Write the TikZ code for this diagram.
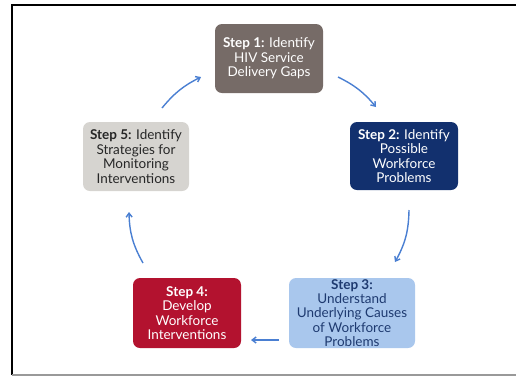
\documentclass[tikz,border=0pt]{standalone}
\usepackage{fontspec}
\setmainfont{Lato}
\usetikzlibrary{arrows.meta}
\definecolor{cStepA}{HTML}{766B67}
\definecolor{cStepB}{HTML}{12306E}
\definecolor{cStepC}{HTML}{A9C7ED}
\definecolor{cStepD}{HTML}{B3122F}
\definecolor{cStepE}{HTML}{D6D4D0}
\definecolor{cTextC}{HTML}{1E3A70}
\definecolor{cArrow}{HTML}{4A7FD2}
\tikzset{
  stepbox/.style={rounded corners=7pt, align=center, font=\fontsize{13.5}{14.4}\selectfont, inner sep=0pt, minimum width=#1},
  flow/.style={draw=cArrow, line width=1.4pt, -{Straight Barb[length=4pt,width=6pt]}}
}
\begin{document}
\begin{tikzpicture}[x=1pt,y=-1pt]
\useasboundingbox (0,0) rectangle (516,376);
\draw[black, line width=2pt] (12,375) -- (12,5) -- (516,5);
\draw[gray!80, line width=1.5pt] (12,375) -- (516,375);
% boxes
\node[stepbox=108pt, minimum height=69pt, fill=cStepA, text=white] (s1) at (269,58.5) {\textbf{Step 1:} Identify\\HIV Service\\Delivery Gaps};
\node[stepbox=108pt, minimum height=68pt, fill=cStepB, text=white] (s2) at (404,156) {\textbf{Step 2:} Identify\\Possible\\Workforce\\Problems};
\node[stepbox=126pt, minimum height=70pt, fill=cStepC, text=cTextC] (s3) at (352,313) {\textbf{Step 3:}\\Understand\\Underlying Causes\\of Workforce\\Problems};
\node[stepbox=108pt, minimum height=70pt, fill=cStepD, text=white] (s4) at (187,313) {\textbf{Step 4:}\\Develop\\Workforce\\Interventions};
\node[stepbox=106pt, minimum height=69pt, fill=cStepE, text=black!85] (s5) at (136,156.5) {\textbf{Step 5:} Identify\\Strategies for\\Monitoring\\Interventions};
% arrow end points
\coordinate (a1s) at (338,77);
\coordinate (a1e) at (376,107);
\coordinate (a2s) at (409,210);
\coordinate (a2e) at (395,262);
\coordinate (a3s) at (279,340);
\coordinate (a3e) at (251,340);
\coordinate (a4s) at (143,263);
\coordinate (a4e) at (129,212);
\coordinate (a5s) at (162,108);
\coordinate (a5e) at (201,77);
\draw[flow] (a1s) to[bend left=12] (a1e);
\draw[flow] (a2s) to[bend left=14] (a2e);
\draw[flow] (a3s) -- (a3e);
\draw[flow] (a4s) to[bend left=14] (a4e);
\draw[flow] (a5s) to[bend left=12] (a5e);
\end{tikzpicture}
\end{document}
